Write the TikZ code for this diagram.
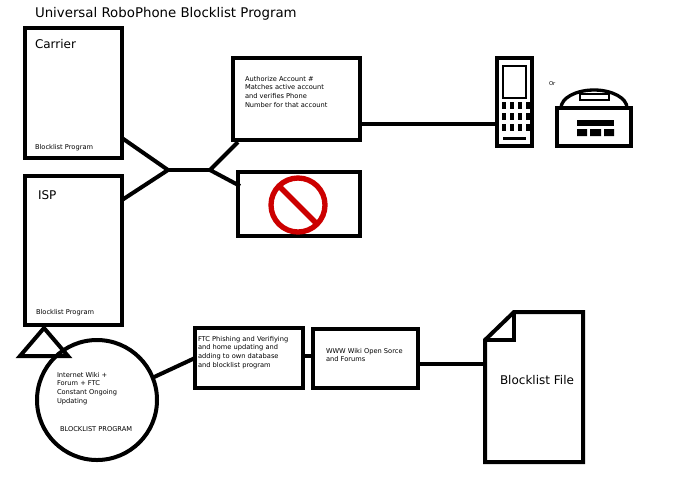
\documentclass[tikz,border=0pt]{standalone}
\usepackage{fontspec}
\setmainfont{DejaVu Sans}
\usetikzlibrary{calc}
\begin{document}
\begin{tikzpicture}[x=0.75pt, y=-0.75pt, line width=3pt,
	box/.style={draw, line width=3pt},
	tiny/.style={font=\fontsize{5}{6.5}\selectfont, align=left, anchor=north west, inner sep=0pt}]
	\useasboundingbox (0,0) rectangle (695,494);
	
	\node[anchor=west, inner sep=0pt, font=\fontsize{10}{12}\selectfont] (title) at (33,14) {Universal RoboPhone Blocklist Program};
	
	% left boxes
	\draw (25,28) rectangle (122,158);
	\node[anchor=west, inner sep=0pt, font=\fontsize{9}{11}\selectfont] (carrier) at (33,44) {Carrier};
	\node[tiny] (carrierprog) at (33,142) {Blocklist Program};
	\draw (25,176) rectangle (122,325);
	\node[anchor=west, inner sep=0pt, font=\fontsize{9}{11}\selectfont] (isp) at (36,195) {ISP};
	\node[tiny] (ispprog) at (34,307) {Blocklist Program};
	
	% fork
	\coordinate (fork) at (168,170);
	\coordinate (split) at (210,170);
	\draw (122,138) -- (fork) -- (122,200);
	\draw (fork) -- (split);
	\draw (238,142) -- (split) -- (240,186);
	
	% authorize box and phones
	\draw (233,58) rectangle (360,140);
	\node[tiny] (auth) at (243,74) {Authorize Account \#\\Matches active account\\and verifies Phone\\Number for that account};
	\draw (360,124) -- (497,124);
	\draw[line width=2.5pt] (497,58) rectangle (532,146);
	\draw[line width=2pt] (503,66) rectangle (526,98);
	\foreach \x in {503,511,519,527}
		\foreach \y in {102,113,124}
			\fill (\x-1,\y) rectangle (\x+3,\y+7);
	\fill (503,137) rectangle (526,140);
	\node[anchor=west, inner sep=0pt, font=\fontsize{4}{5}\selectfont] (or) at (547,84) {Or};
	\draw[line width=2.5pt] (557,108) rectangle (631,146);
	\draw[line width=2.5pt] (561,108) arc (180:360:33 and 18);
	\draw[line width=2pt] (580,94) rectangle (609,100);
	\fill (577,120) rectangle (614,126);
	\fill (577,129) rectangle (587,136) (590,129) rectangle (601,136) (604,129) rectangle (614,136);
	
	% rejected box
	\draw (238,172) rectangle (360,236);
	\draw[red!80!black, line width=4pt] (298,205) circle (27);
	\draw[red!80!black, line width=4pt] ($(298,205)+(-135:27)$) -- ($(298,205)+(45:27)$);
	
	% community updating
	\draw[line width=3pt] (44,328) -- (20,356) -- (68,356) -- cycle;
	\draw (97,400) circle (60);
	\node[tiny] (wiki) at (55,370) {Internet Wiki +\\Forum + FTC\\Constant Ongoing\\Updating};
	\node[tiny] (bcap) at (58,425) {BLOCKLIST PROGRAM};
	\draw (152,378) -- (195,358);
	\draw (195,328) rectangle (303,388);
	\node[tiny] (ftc) at (196,334) {FTC Phishing and Verifiying\\and home updating and\\adding to own database\\and blocklist program};
	\draw (303,356) -- (313,356);
	\draw (313,329) rectangle (418,388);
	\node[tiny] (www) at (324,346) {WWW Wiki Open Sorce\\and Forums};
	\draw (418,364) -- (485,364);
	\draw (485,340) -- (514,312) -- (583,312) -- (583,462) -- (485,462) -- cycle;
	\draw (485,340) -- (514,340) -- (514,312);
	\node[anchor=west, inner sep=0pt, font=\fontsize{9}{11}\selectfont] (file) at (498,380) {Blocklist File};
\end{tikzpicture}
\end{document}
